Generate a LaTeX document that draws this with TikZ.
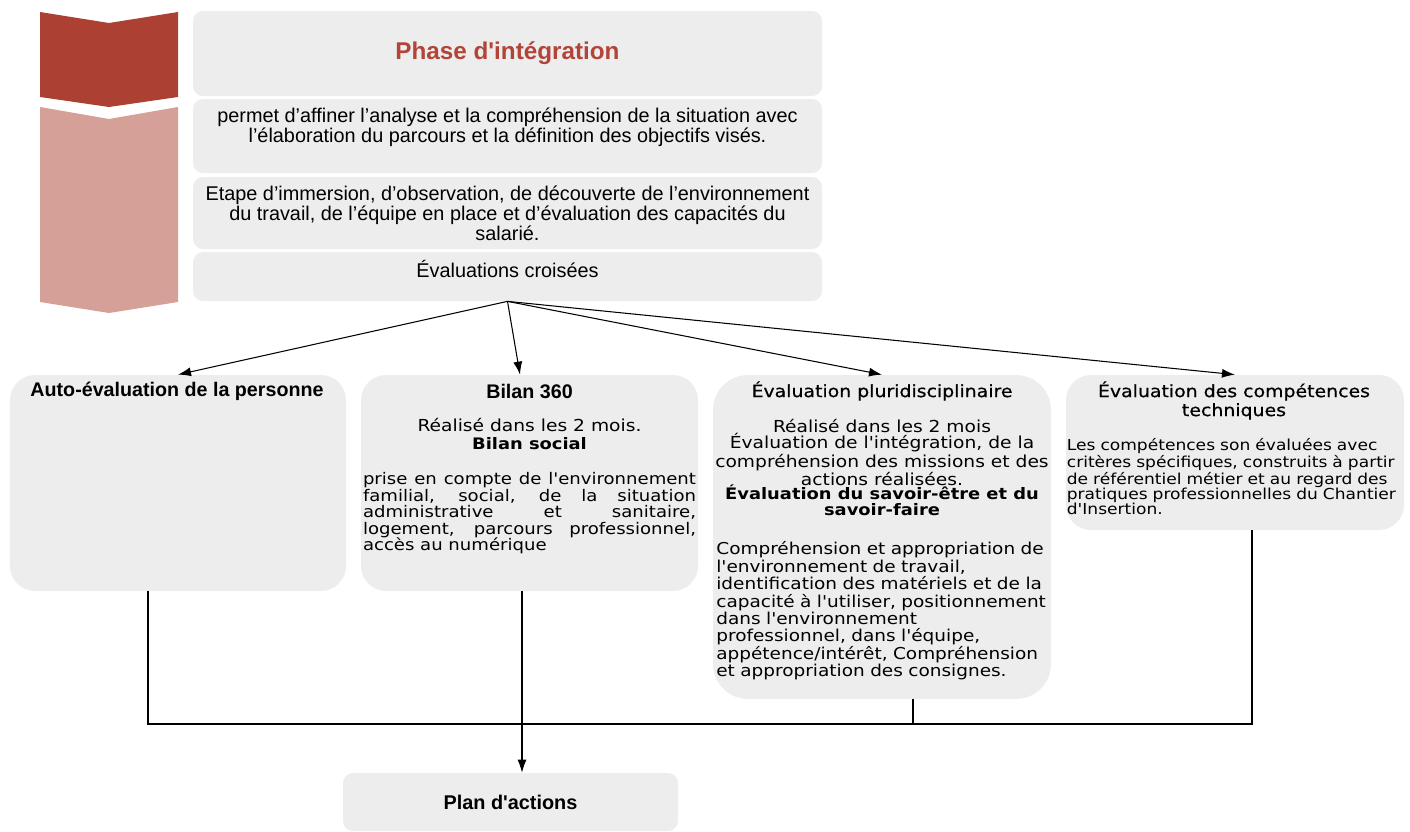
\documentclass[tikz,border=0pt]{standalone}
\usepackage{fontspec}
\setmainfont{Liberation Sans}[Ligatures=TeXOff]
\newfontfamily\verd{DejaVu Sans}[Ligatures=TeXOff, FakeStretch=1.13]
\newfontfamily\verdt{DejaVu Sans}[Ligatures=TeXOff, FakeStretch=1.12, FakeBold=0.6]
\usetikzlibrary{arrows.meta}

\definecolor{phasered}{RGB}{172,64,51}
\definecolor{phasepink}{RGB}{213,160,152}
\definecolor{boxgray}{RGB}{237,237,237}
\definecolor{titlered}{RGB}{178,68,56}

\tikzset{
  card/.style={fill=boxgray, rounded corners=0.2cm, inner sep=0pt},
  bigcard/.style={fill=boxgray, rounded corners=0.5cm, inner sep=0pt},
  toptxt/.style={font=\fontsize{11.3}{11.4}\selectfont, align=center},
  hd/.style={font=\bfseries\fontsize{11.2}{12}\selectfont, align=center},
  vhd/.style={font=\verdt\fontsize{9.6}{10.8}\selectfont, align=center},
  vtxt/.style={font=\verd\fontsize{9.4}{9.3}\selectfont, align=center},
  vbold/.style={font=\verd\bfseries\fontsize{9}{9.3}\selectfont, align=center},
  link/.style={line width=0.6pt},
  arr/.style={link, -{Latex[length=2.6mm, width=1.8mm]}}
}

\begin{document}
\begin{tikzpicture}
  \useasboundingbox (0,0) rectangle (28.2,-16.62);

  % chevrons
  \fill[phasered] (0.8,-0.24) -- (2.18,-0.46) -- (3.56,-0.24) -- (3.56,-1.94) -- (2.18,-2.14) -- (0.8,-1.94) -- cycle;
  \fill[phasepink] (0.8,-2.14) -- (2.18,-2.38) -- (3.56,-2.14) -- (3.56,-6.04) -- (2.18,-6.26) -- (0.8,-6.04) -- cycle;

  % phase boxes
  \node[card, minimum width=12.58cm, minimum height=1.7cm, font=\bfseries\fontsize{13.8}{15}\selectfont, text=titlered] (phase) at (10.15,-1.07) {Phase d'intégration};
  \node[card, minimum width=12.58cm, minimum height=1.48cm] (affiner) at (10.15,-2.72) {};
  \node[toptxt] (affinert) at (10.15,-2.54) {permet d’affiner l’analyse et la compréhension de la situation avec\\l’élaboration du parcours et la définition des objectifs visés.};
  \node[card, minimum width=12.58cm, minimum height=1.44cm, toptxt] (etape) at (10.15,-4.26) {Etape d’immersion, d’observation, de découverte de l’environnement\\du travail, de l’équipe en place et d’évaluation des capacités du\\salarié.};
  \node[card, minimum width=12.58cm, minimum height=0.98cm] (crois) at (10.15,-5.53) {};
  \node[toptxt] (croist) at (10.15,-5.38) {Évaluations croisées};

  % evaluations
  \node[bigcard, minimum width=6.72cm, minimum height=4.32cm] (auto) at (3.56,-9.66) {};
  \node[hd] (autot) at (3.54,-7.82) {Auto-évaluation de la personne};

  \node[bigcard, minimum width=6.74cm, minimum height=4.32cm] (bilan) at (10.59,-9.66) {};
  \node[hd] (bilant) at (10.59,-7.82) {Bilan 360};
  \node[vtxt] (bilanr) at (10.59,-8.5) {Réalisé dans les 2 mois.};
  \node[vbold] (bilans) at (10.59,-8.88) {Bilan social};
  \node[vtxt, font=\verd\fontsize{9.1}{9.4}\selectfont, align=justify, text width=6.66cm, inner sep=0pt] (bilanp) at (10.59,-10.27) {prise en compte de l'environnement\linebreak familial, social, de la situation\linebreak administrative et sanitaire,\linebreak logement, parcours professionnel,\linebreak accès au numérique};

  \node[bigcard, rounded corners=0.7cm, minimum width=6.76cm, minimum height=6.48cm] (pluri) at (17.64,-10.74) {};
  \node[vhd] (plurit) at (17.64,-7.82) {Évaluation pluridisciplinaire};
  \node[vtxt] (plurir) at (17.64,-9.05) {Réalisé dans les 2 mois\\Évaluation de l'intégration, de la\\compréhension des missions et des\\actions réalisées.};
  \node[vbold] (pluris) at (17.64,-10.0) {Évaluation du savoir-être et du\\savoir-faire};
  \node[vtxt, font=\verd\fontsize{9.3}{9.9}\selectfont, align=left, text width=6.7cm, inner sep=0pt, anchor=west] (plurip) at (14.32,-12.22) {Compréhension et appropriation de\\l'environnement de travail,\\identification des matériels et de la\\capacité à l'utiliser, positionnement\\dans l'environnement\\professionnel, dans l'équipe,\\appétence/intérêt, Compréhension\\et appropriation des consignes.};

  \node[bigcard, minimum width=6.76cm, minimum height=3.1cm] (comp) at (24.7,-9.05) {};
  \node[vhd] (compt) at (24.68,-8.01) {Évaluation des compétences\\techniques};
  \node[vtxt, font=\verd\fontsize{8.6}{8.6}\selectfont, align=left, text width=6.8cm, inner sep=0pt, anchor=west] (compp) at (21.33,-9.53) {Les compétences son évaluées avec\\critères spécifiques, construits à partir\\de référentiel métier et au regard des\\pratiques professionnelles du Chantier\\d'Insertion.};

  \node[card, minimum width=6.7cm, minimum height=1.16cm, hd, font=\bfseries\fontsize{11.3}{12}\selectfont] (plan) at (10.21,-16.04) {Plan d'actions};

  % connectors
  \coordinate (bus) at (10,-14.48);
  \draw[arr] (crois.south) -- (auto.north);
  \draw[arr] (crois.south) -- ([xshift=-1.9mm]bilan.north);
  \draw[arr] (crois.south) -- (pluri.north);
  \draw[arr] (crois.south) -- (comp.north);

  \draw[link] ([xshift=-6mm]auto.south) -- ([xshift=-6mm]auto.south |- bus) -- ([xshift=3.4mm]comp.south |- bus) -- ([xshift=3.4mm]comp.south);
  \draw[link] ([xshift=6.2mm]pluri.south) -- ([xshift=6.2mm]pluri.south |- bus);
  \draw[arr] ([xshift=-1.5mm]bilan.south) -- ([xshift=-1.5mm]bilan.south |- plan.north);
\end{tikzpicture}
\end{document}
